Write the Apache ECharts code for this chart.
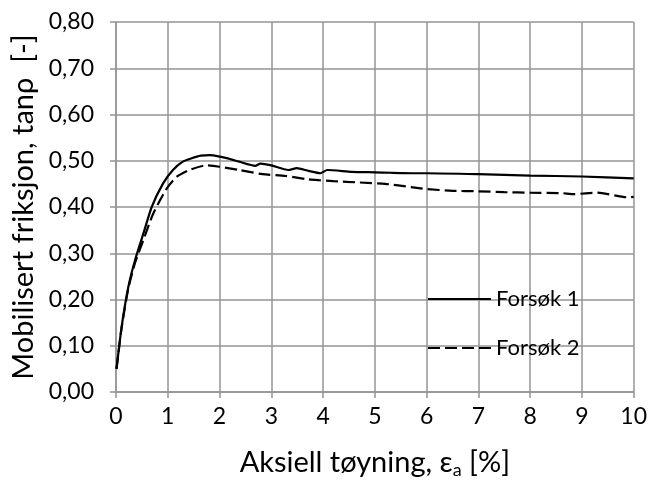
<!DOCTYPE html>
<html>
<head>
<meta charset="utf-8">
<script src="https://cdn.jsdelivr.net/npm/echarts@6/dist/echarts.min.js"></script>
<style>
html,body{margin:0;padding:0;background:#fff;}
#chart{width:650px;height:484px;}
</style>
</head>
<body>
<div id="chart"></div>
<script>
const seriesNames = ['Forsøk 1', 'Forsøk 2'];
const xTicks = [0,1,2,3,4,5,6,7,8,9,10];
const yTickLabels = ['0,00','0,10','0,20','0,30','0,40','0,50','0,60','0,70','0,80'];

const x1 = [0.01,0.11,0.24,0.37,0.53,0.69,0.91,1.10,1.29,1.45,1.64,1.81,2.0,2.16,2.38,2.69,2.79,3.0,3.33,3.49,3.72,3.95,4.08,4.56,5.0,5.32,5.85,6.02,7.0,8.0,9.0,10.0];
const y1 = [0.05,0.142,0.228,0.286,0.343,0.40,0.451,0.48,0.498,0.505,0.511,0.512,0.509,0.505,0.498,0.489,0.494,0.490,0.480,0.484,0.478,0.473,0.480,0.476,0.475,0.474,0.473,0.473,0.471,0.468,0.466,0.462];

const x2 = [0.01,0.11,0.24,0.37,0.53,0.72,0.98,1.17,1.42,1.74,2.0,2.38,2.83,3.28,3.7,3.92,4.2,4.7,5.2,5.7,5.99,6.5,7.0,7.5,8.0,8.6,8.85,9.3,9.87,10.0];
const y2 = [0.05,0.14,0.225,0.28,0.329,0.386,0.44,0.465,0.48,0.49,0.487,0.480,0.471,0.467,0.460,0.458,0.456,0.453,0.450,0.443,0.439,0.435,0.434,0.432,0.431,0.430,0.428,0.431,0.421,0.422];

const pairs = (xs, ys) => xs.map((x, i) => [x, ys[i]]);
const FONT = 'Lato';
const gridColor = '#949494';

const legendText = { fontFamily: FONT, fontSize: 22, color: '#000', lineHeight: 20 };
const legendCommon = { padding: 0, itemWidth: 63, itemHeight: 20, textStyle: legendText,
  itemStyle: { color: 'rgba(0,0,0,0)', borderWidth: 0 } };
const chart = echarts.init(document.getElementById('chart'));
chart.setOption({
  animation: false,
  textStyle: { fontFamily: FONT },
  grid: { left: 116, top: 22, width: 520, height: 371, containLabel: false },
  legend: [
    Object.assign({ left: 427, top: 288, data: [seriesNames[0]] }, legendCommon),
    Object.assign({ left: 427, top: 337, data: [seriesNames[1]] }, legendCommon)
  ],
  xAxis: {
    type: 'value', min: 0, max: 10, interval: 1,
    name: '{n|Aksiell tøyning, ε}{s|a}{n| [%]}',
    nameLocation: 'middle', nameGap: 55,
    nameTextStyle: { rich: {
      n: { fontFamily: FONT, fontSize: 29, color: '#000' },
      s: { fontFamily: FONT, fontSize: 18, color: '#000', padding: [14,0,0,0] }
    } },
    axisLine: { show: true, onZero: false, lineStyle: { color: gridColor, width: 1.5 } },
    axisTick: { show: true, length: 6, lineStyle: { color: gridColor, width: 1.5 } },
    axisLabel: { fontFamily: FONT, fontSize: 23, color: '#000', margin: 13,
      formatter: v => String(xTicks[Math.round(v)]) },
    splitLine: { show: true, lineStyle: { color: gridColor, width: 1.5 } }
  },
  yAxis: {
    type: 'value', min: 0, max: 0.8, interval: 0.1,
    name: 'Mobilisert friksjon, tanρ  [-]',
    nameLocation: 'middle', nameGap: 74, nameRotate: 90,
    nameTextStyle: { fontFamily: FONT, fontSize: 29, color: '#000' },
    axisLine: { show: true, lineStyle: { color: gridColor, width: 1.5 } },
    axisTick: { show: true, length: 6, lineStyle: { color: gridColor, width: 1.5 } },
    axisLabel: { fontFamily: FONT, fontSize: 23, color: '#000', margin: 22,
      formatter: v => yTickLabels[Math.round(v * 10)] },
    splitLine: { show: true, lineStyle: { color: gridColor, width: 1.5 } }
  },
  series: [
    { name: seriesNames[0], type: 'line', data: pairs(x1, y1), showSymbol: false, symbol: 'none',
      smooth: 0.2, lineStyle: { color: '#000', width: 2.2 }, itemStyle: { color: '#000' } },
    { name: seriesNames[1], type: 'line', data: pairs(x2, y2), showSymbol: false, symbol: 'none',
      smooth: 0.2, lineStyle: { color: '#000', width: 2.2, type: [12, 5] }, itemStyle: { color: '#000' } }
  ]
});
</script>
</body>
</html>
